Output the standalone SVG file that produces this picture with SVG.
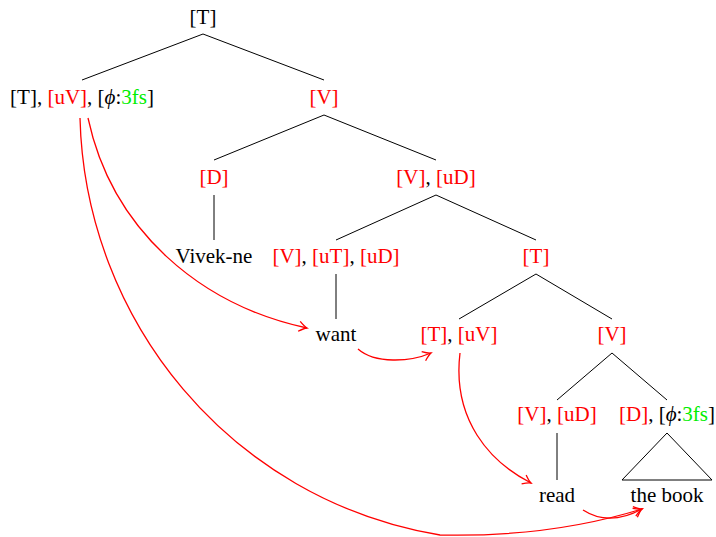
<svg xmlns="http://www.w3.org/2000/svg" width="716" height="537" viewBox="0 0 716 537">
  <style>
    text { font-family: "Liberation Serif", "Times New Roman", serif; font-size: 21px; fill: #000; text-anchor: middle; }
    .r { fill: #ff0000; }
    .g { fill: #00ee00; }
    .m { font-style: italic; }
    .edge { stroke: #000; stroke-width: 1; fill: none; }
    .mv { stroke: #ff0000; stroke-width: 1.3; fill: none; marker-end: url(#head); }
  </style>
  <defs>
    <marker id="head" viewBox="-10 -6 12 12" refX="0" refY="0" markerWidth="12" markerHeight="12" markerUnits="userSpaceOnUse" orient="auto">
      <path d="M-8,-5 Q-3,-1 0,0 Q-3,1 -8,5" fill="none" stroke="#ff0000" stroke-width="1.3"/>
    </marker>
  </defs>

  <rect width="716" height="537" fill="#fff"/>

  <!-- tree branches -->
  <g id="branches">
    <path class="edge" d="M203,34 L82,80 M203,34 L324,80"/>
    <path class="edge" d="M324,115 L214,160 M324,115 L436,160"/>
    <path class="edge" d="M214,195 L214,240"/>
    <path class="edge" d="M436,195 L336,240 M436,195 L536,240"/>
    <path class="edge" d="M336,274 L336,319"/>
    <path class="edge" d="M536,274 L459,319 M536,274 L612,319"/>
    <path class="edge" d="M612,353 L557,400 M612,353 L667,400"/>
    <path class="edge" d="M557,433 L557,480"/>
    <path class="edge" d="M667,433 L622,480 L712,480 Z"/>
  </g>

  <!-- nodes -->
  <g id="n-root"><text x="203" y="24">[T]</text></g>
  <g id="n-tp"><text x="82" y="104">[T], <tspan class="r">[uV]</tspan>, [<tspan class="m">ϕ</tspan>:<tspan class="g">3fs</tspan>]</text></g>
  <g id="n-v1"><text x="324" y="104" class="r">[V]</text></g>
  <g id="n-d"><text x="214" y="184" class="r">[D]</text></g>
  <g id="n-v2"><text x="436" y="184"><tspan class="r">[V]</tspan>, <tspan class="r">[uD]</tspan></text></g>
  <g id="n-vivek"><text x="214" y="263">Vivek-ne</text></g>
  <g id="n-v3"><text x="336" y="263"><tspan class="r">[V]</tspan>, <tspan class="r">[uT]</tspan>, <tspan class="r">[uD]</tspan></text></g>
  <g id="n-t2"><text x="536" y="263" class="r">[T]</text></g>
  <g id="n-want"><text x="336" y="341">want</text></g>
  <g id="n-t3"><text x="459" y="341"><tspan class="r">[T]</tspan>, <tspan class="r">[uV]</tspan></text></g>
  <g id="n-v4"><text x="612" y="341" class="r">[V]</text></g>
  <g id="n-v5"><text x="557" y="421"><tspan class="r">[V]</tspan>, <tspan class="r">[uD]</tspan></text></g>
  <g id="n-dp"><text x="667" y="421"><tspan class="r">[D]</tspan>, [<tspan class="m">ϕ</tspan>:<tspan class="g">3fs</tspan>]</text></g>
  <g id="n-read"><text x="557" y="502">read</text></g>
  <g id="n-book"><text x="667" y="502">the book</text></g>

  <!-- movement arrows -->
  <g id="connectors">
    <path class="mv" d="M88,118 C112,230 200,305 307,328"/>
    <path class="mv" d="M358,349 C375,364 410,362 431,353"/>
    <path class="mv" d="M460,353 C452,420 490,462 531,483"/>
    <path class="mv" d="M583,510 C600,521 620,521 642,509"/>
    <path class="mv" d="M80,118 C85,320 230,500 440,535 C530,537 600,522 642,509"/>
  </g>
</svg>
